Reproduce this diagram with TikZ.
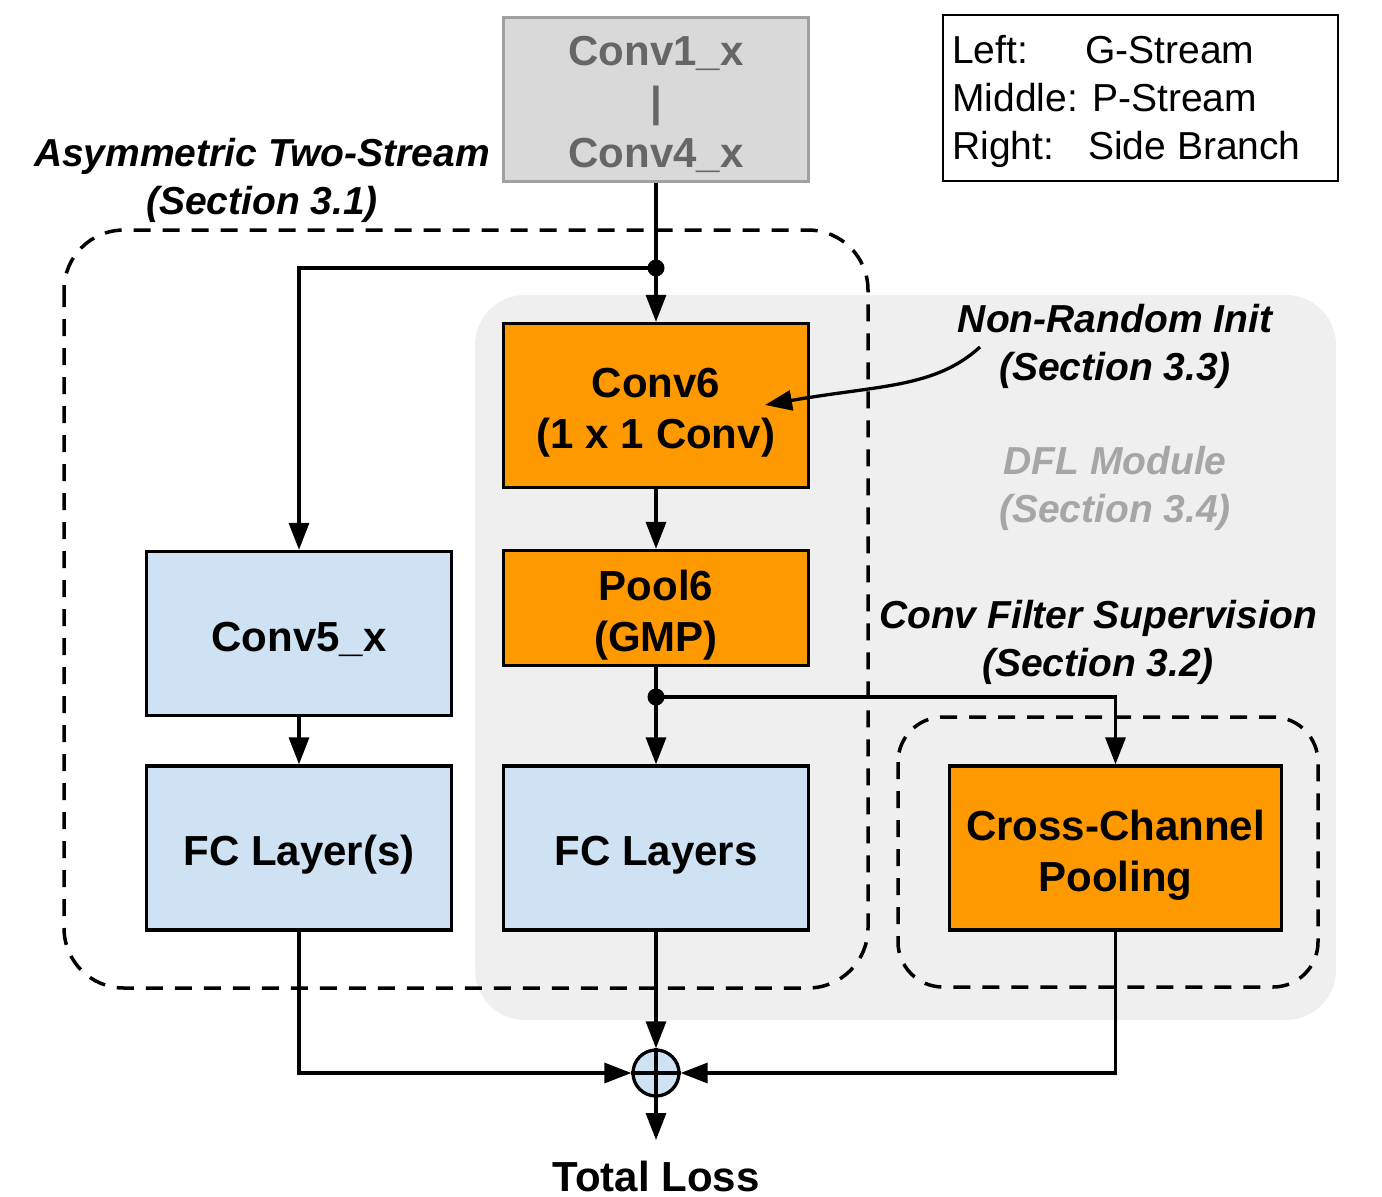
\documentclass[tikz,border=0pt]{standalone}
\usepackage{fontspec}
\setmainfont{Liberation Sans}
\usetikzlibrary{arrows.meta}
\definecolor{orangeF}{HTML}{FF9900}
\definecolor{blueF}{HTML}{CFE2F3}
\definecolor{grayF}{HTML}{D9D9D9}
\definecolor{grayD}{HTML}{A0A0A0}
\definecolor{grayT}{HTML}{666666}
\definecolor{bgF}{HTML}{EFEFEF}
\definecolor{dflT}{HTML}{A6A6A6}
\begin{document}
\begin{tikzpicture}[x=1pt,y=-1pt,
  box/.style={draw, line width=3.3pt, minimum width=305pt, minimum height=164pt, inner sep=0pt, align=center, font=\fontsize{42}{51}\selectfont\bfseries, text depth=0pt, text height=#1},
  box/.default=35pt,
  obox/.style={box=#1, fill=orangeF},
  obox/.default=86pt,
  bbox/.style={box=#1, fill=blueF},
  bbox/.default=35pt,
  lbl/.style={align=center, inner sep=0pt, font=\fontsize{39}{48}\selectfont\bfseries\itshape},
  leg/.style={anchor=base west, inner sep=0pt, font=\fontsize{39}{48}\selectfont},
  arr/.style={line width=3.3pt, -{Triangle[length=27pt,width=20pt]}},
  ln/.style={line width=3.3pt},
  dsh/.style={line width=3.5pt, dash pattern=on 17pt off 12pt},
  dot/.style={circle, fill=black, inner sep=0pt, minimum size=17pt}]
\useasboundingbox (0,0) rectangle (1382,1197);
% background DFL module
\fill[bgF, rounded corners=50pt] (475,295) rectangle (1336,1020);
% dashed groups
\draw[dsh, rounded corners=60pt] (64,230) rectangle (868,988);
\draw[dsh, rounded corners=45pt] (898,717) rectangle (1318,987);
% boxes
\node[box=136pt, fill=grayF, draw=grayD, text=grayT] (top) at (656,99.5) {Conv1\_x\\|\\Conv4\_x};
\node[obox] (conv6) at (656,405.5) {Conv6\\(1 x 1 Conv)};
\node[obox, minimum height=115pt] (pool6) at (656,608) {Pool6\\(GMP)};
\node[bbox] (conv5) at (299,633.5) {Conv5\_x};
\node[bbox] (fcl) at (299,848) {FC Layer(s)};
\node[bbox] (fcs) at (656,848) {FC Layers};
\node[obox, minimum width=332pt] (ccp) at (1115.5,848) {Cross-Channel\\Pooling};
% labels
\node[lbl] (asym) at (262,180) {Asymmetric Two-Stream\\(Section 3.1)};
\node[lbl] (nri) at (1115,346) {Non-Random Init\\(Section 3.3)};
\node[lbl, text=dflT] (dfl) at (1115,488) {DFL Module\\(Section 3.4)};
\node[lbl] (cfs) at (1098,642) {Conv Filter Supervision\\(Section 3.2)};
% legend
\node[draw, line width=1.2pt, minimum width=395pt, minimum height=166pt, inner sep=0pt] (legend) at (1140.5,98) {};
\node[leg] (l1a) at (952,63) {Left:};
\node[leg] (l1b) at (1085,63) {G-Stream};
\node[leg] (l2a) at (952,111) {Middle: P-Stream};
\node[leg] (l3a) at (952,159) {Right:};
\node[leg] (l3b) at (1088,159) {Side Branch};
% junctions
\node[dot] (j1) at (656,268) {};
\node[dot] (j2) at (656,697) {};
% sum
\node[circle, draw, line width=3.3pt, fill=blueF, minimum size=46pt, inner sep=0pt] (sum) at (656,1073) {};
\draw[ln] (sum.north) -- (sum.south);
\draw[ln] (sum.west) -- (sum.east);
\coordinate (out) at (656,1140);
\node[inner sep=0pt, font=\fontsize{42}{51}\selectfont\bfseries] (total) at (656,1176) {Total Loss};
% connectors
\draw[arr] (top.south) -- (conv6.north);
\draw[arr] (j1.center) -| (conv5.north);
\draw[arr] (conv6.south) -- (pool6.north);
\draw[arr] (pool6.south) -- (fcs.north);
\draw[arr] (j2.center) -| (ccp.north);
\draw[arr] (conv5.south) -- (fcl.north);
\draw[arr] (fcl.south) |- (sum.west);
\draw[arr] (fcs.south) -- (sum.north);
\draw[arr] (ccp.south) |- (sum.east);
\draw[arr] (sum.south) -- (out);
\coordinate (nrs) at (980,347);
\coordinate (nrt) at (765,405);
\draw[arr] (nrs) .. controls (935,388) and (880,385) .. (nrt);
\end{tikzpicture}
\end{document}
